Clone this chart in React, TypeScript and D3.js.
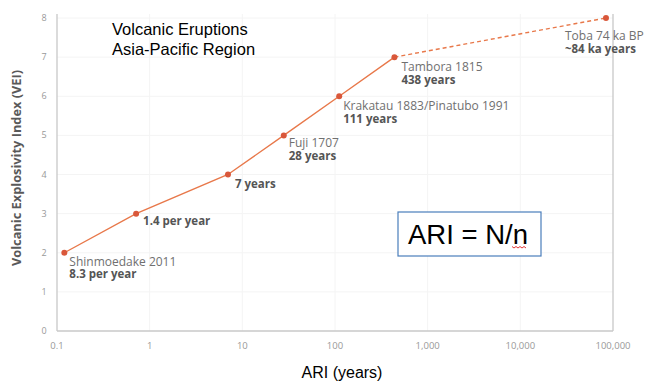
import React, { useEffect, useRef } from 'react';
import * as d3 from 'd3';

// eruptions: ARI in years, VEI, label, frequency text
const names = ['Shinmoedake 2011', '', '', 'Fuji 1707', 'Krakatau 1883/Pinatubo 1991', 'Tambora 1815', 'Toba 74 ka BP'];
const freqLabels = ['8.3 per year', '1.4 per year', '7 years', '28 years', '111 years', '438 years', '~84 ka years'];
const ariValues = [0.12, 0.714, 7, 28, 111, 438, 84000];
const veiValues = [2, 3, 4, 5, 6, 7, 8];

const xTicks = [0.1, 1, 10, 100, 1000, 10000, 100000];
const yTicks = [0, 1, 2, 3, 4, 5, 6, 7, 8];

const W = 653;
const H = 392;

export default function App() {
  const ref = useRef<SVGSVGElement>(null);

  useEffect(() => {
    if (!ref.current) return;
    const svg = d3.select(ref.current);
    svg.selectAll('*').remove();

    const left = 57, right = 613, top = 18, bottom = 331;

    const x = d3.scaleLog().domain([0.1, 100000]).range([left, right]);
    const y = d3.scaleLinear().domain([0, 8]).range([bottom, top]);

    // faint gridlines
    svg.append('g')
      .selectAll('line')
      .data(yTicks.slice(1))
      .enter()
      .append('line')
      .attr('x1', left).attr('x2', right)
      .attr('y1', d => y(d)).attr('y2', d => y(d))
      .attr('stroke', '#f4f4f4');
    svg.append('g')
      .selectAll('line')
      .data(xTicks.slice(1, -1))
      .enter()
      .append('line')
      .attr('x1', d => x(d)).attr('x2', d => x(d))
      .attr('y1', top - 4).attr('y2', bottom)
      .attr('stroke', '#f4f4f4');

    // frame lines
    svg.append('line').attr('x1', left).attr('x2', left).attr('y1', top - 4).attr('y2', bottom)
      .attr('stroke', '#c8c8c8').attr('stroke-width', 1.3);
    svg.append('line').attr('x1', left).attr('x2', right).attr('y1', bottom).attr('y2', bottom)
      .attr('stroke', '#c8c8c8').attr('stroke-width', 1.3);
    svg.append('line').attr('x1', right).attr('x2', right).attr('y1', top - 4).attr('y2', bottom)
      .attr('stroke', '#c8c8c8').attr('stroke-width', 1.3);

    // tick labels
    svg.append('g')
      .selectAll('text')
      .data(yTicks)
      .enter()
      .append('text')
      .attr('x', 44).attr('y', d => y(d) + 3)
      .attr('text-anchor', 'middle')
      .attr('font-family', 'Open Sans, sans-serif')
      .attr('font-size', 9)
      .attr('fill', '#999')
      .text(d => d);
    svg.append('g')
      .selectAll('text')
      .data(xTicks)
      .enter()
      .append('text')
      .attr('x', d => x(d)).attr('y', 349)
      .attr('text-anchor', 'middle')
      .attr('font-family', 'Open Sans, sans-serif')
      .attr('font-size', 9.5)
      .attr('fill', '#999')
      .text(d => d3.format(',')(d));

    const pts = ariValues.map((a, i) => ({ a, v: veiValues[i] }));
    const line = d3.line<{ a: number; v: number }>().x(d => x(d.a)).y(d => y(d.v));

    svg.append('path')
      .datum(pts.slice(0, 6))
      .attr('d', line)
      .attr('fill', 'none')
      .attr('stroke', '#e8784a')
      .attr('stroke-width', 1.4);
    svg.append('path')
      .datum(pts.slice(5))
      .attr('d', line)
      .attr('fill', 'none')
      .attr('stroke', '#e8784a')
      .attr('stroke-width', 1.4)
      .attr('stroke-dasharray', '4,3');

    svg.append('g')
      .selectAll('circle')
      .data(pts)
      .enter()
      .append('circle')
      .attr('cx', d => x(d.a)).attr('cy', d => y(d.v))
      .attr('r', 3)
      .attr('fill', '#d9573a');

    // point labels
    const offsets = [
      [5, 13], [7, 11], [7, 13], [5, 12], [4, 14], [7, 14], [-41, 22],
    ];
    pts.forEach((d, i) => {
      const px = x(d.a) + offsets[i][0];
      const py = y(d.v) + offsets[i][1];
      if (names[i]) {
        svg.append('text')
          .attr('x', px).attr('y', py)
          .attr('font-family', 'Open Sans, sans-serif')
          .attr('font-size', 12)
          .attr('fill', '#707070')
          .text(names[i]);
      }
      svg.append('text')
        .attr('x', px).attr('y', names[i] ? py + 12.5 : py)
        .attr('font-family', 'Open Sans, sans-serif')
        .attr('font-size', 11.5)
        .attr('font-weight', 'bold')
        .attr('fill', '#555')
        .text(freqLabels[i]);
    });

    // title
    svg.append('text').attr('x', 112).attr('y', 35)
      .attr('font-family', 'Liberation Sans, Arial, sans-serif')
      .attr('font-size', 16.5).attr('fill', '#000')
      .text('Volcanic Eruptions');
    svg.append('text').attr('x', 112).attr('y', 55)
      .attr('font-family', 'Liberation Sans, Arial, sans-serif')
      .attr('font-size', 16.5).attr('fill', '#000')
      .text('Asia-Pacific Region');

    // axis titles
    svg.append('text')
      .attr('transform', 'translate(21, 168) rotate(-90)')
      .attr('text-anchor', 'middle')
      .attr('font-family', 'Open Sans, sans-serif')
      .attr('font-size', 12.8)
      .attr('font-weight', 'bold')
      .attr('fill', '#595959')
      .text('Volcanic Explosivity Index (VEI)');
    svg.append('text')
      .attr('x', 342).attr('y', 378)
      .attr('text-anchor', 'middle')
      .attr('font-family', 'Liberation Sans, Arial, sans-serif')
      .attr('font-size', 16)
      .attr('fill', '#000')
      .text('ARI (years)');

    // formula box
    svg.append('rect')
      .attr('x', 398).attr('y', 212).attr('width', 143).attr('height', 44)
      .attr('fill', '#fff').attr('stroke', '#4a7ebb').attr('stroke-width', 1.2);
    svg.append('text')
      .attr('x', 408).attr('y', 244)
      .attr('font-family', 'Liberation Sans, Arial, sans-serif')
      .attr('font-size', 27.5)
      .attr('fill', '#000')
      .text('ARI = N/n');
    // spell-check squiggle under "n"
    const sq = d3.range(0, 8).map(i => [512 + i * 2, 246.5 + (i % 2 === 0 ? 0 : 1.5)] as [number, number]);
    svg.append('path')
      .attr('d', d3.line()(sq))
      .attr('fill', 'none')
      .attr('stroke', '#e02020')
      .attr('stroke-width', 0.9);
  }, []);

  return (
    <svg ref={ref} width={W} height={H} style={{ position: 'absolute', left: 0, top: 0, background: '#fff' }} />
  );
}
